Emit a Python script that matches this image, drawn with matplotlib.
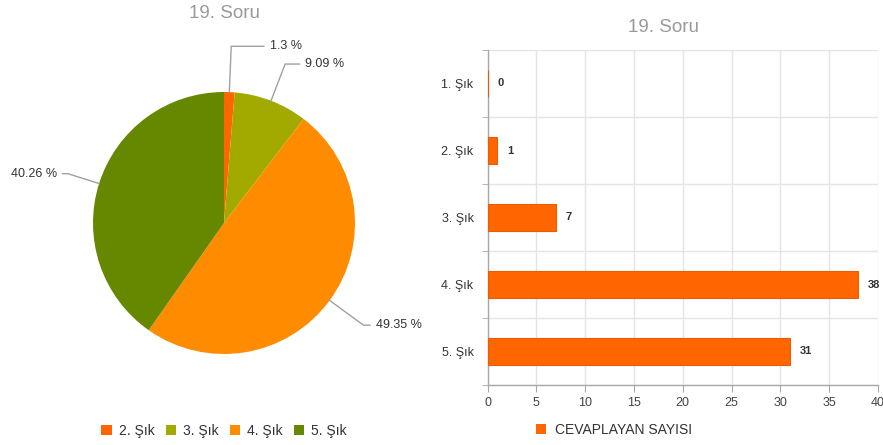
import matplotlib

matplotlib.use("Agg")

import matplotlib.pyplot as plt
import numpy as np
from matplotlib.patches import Patch

plt.rcParams["font.family"] = ["Liberation Sans", "DejaVu Sans"]

TITLE = "19. Soru"
categories = ["1. Şık", "2. Şık", "3. Şık", "4. Şık", "5. Şık"]
counts = [0, 1, 7, 38, 31]
series_name = "CEVAPLAYAN SAYISI"

pie_labels = ["2. Şık", "3. Şık", "4. Şık", "5. Şık"]
pie_values = [1, 7, 38, 31]
pie_pct = ["1.3 %", "9.09 %", "49.35 %", "40.26 %"]
pie_colors = ["#ff6600", "#a2aa00", "#ff8c00", "#668800"]

BAR_COLOR = "#ff6600"
TITLE_COLOR = "#9a9a9a"
TEXT_COLOR = "#333333"
GRID_COLOR = "#e4e4e4"
AXIS_COLOR = "#a8a8a8"

W, H = 883, 445
fig = plt.figure(figsize=(W / 100, H / 100), dpi=100)

# ---- pie (left) ----
r_px = 131
cx, cy = 224, 223
lim = 1.7
side = 2 * lim * r_px
ax1 = fig.add_axes([(cx - side / 2) / W, (H - cy - side / 2) / H, side / W, side / H])
wedges, _ = ax1.pie(
    pie_values,
    colors=pie_colors,
    startangle=90,
    counterclock=False,
    radius=1.0,
    wedgeprops=dict(linewidth=0),
)
ax1.set_xlim(-lim, lim)
ax1.set_ylim(-lim, lim)
ax1.set_aspect("equal")
ax1.axis("off")

# leader lines: radial segment to an elbow, then a short horizontal run
elbow_r = [1.35, 1.3, 1.32, 1.25]
hlen = [0.25, 0.11, 0.05, 0.04]
for w, txt, er, hl in zip(wedges, pie_pct, elbow_r, hlen):
    ang = np.deg2rad((w.theta1 + w.theta2) / 2)
    x0, y0 = np.cos(ang), np.sin(ang)
    ex, ey = np.cos(ang) * er, np.sin(ang) * er
    d = 1 if np.cos(ang) >= 0 else -1
    ax1.plot([x0, ex, ex + d * hl], [y0, ey, ey], color="#a0a0a0", lw=1, clip_on=False)
    ax1.text(ex + d * (hl + 0.045), ey, txt, ha="left" if d > 0 else "right",
             va="center", fontsize=9, color=TEXT_COLOR, clip_on=False)

fig.text(cx / W, 1 - 13 / H, TITLE, ha="center", va="center", fontsize=13.5, color=TITLE_COLOR)

handles = [Patch(facecolor=c, edgecolor="none") for c in pie_colors]
fig.legend(handles, pie_labels, loc="center", bbox_to_anchor=(cx / W, 1 - 431 / H),
           ncol=4, frameon=False, fontsize=10, handlelength=0.75, handleheight=0.75,
           handletextpad=0.5, columnspacing=0.8, labelcolor=TEXT_COLOR)

# ---- bars (right) ----
left, right, top, bottom = 487.5, 878, 50, 385
ax2 = fig.add_axes([left / W, (H - bottom) / H, (right - left) / W, (bottom - top) / H])
ypos = np.arange(len(categories))
ax2.barh(ypos, counts, height=0.4, color=BAR_COLOR, edgecolor="#e85d00", linewidth=0.8, zorder=3)
ax2.set_xlim(0, 40)
ax2.set_ylim(len(categories) - 0.5, -0.5)
ax2.set_xticks(range(0, 41, 5))
ax2.set_yticks(ypos)
ax2.set_yticklabels(categories)
ax2.set_yticks(np.arange(-0.5, len(categories)), minor=True)
ax2.xaxis.grid(True, color=GRID_COLOR, lw=1, zorder=0)
ax2.yaxis.grid(True, which="minor", color=GRID_COLOR, lw=1, zorder=0)
ax2.set_axisbelow(True)
for s in ("top", "right"):
    ax2.spines[s].set_visible(False)
for s in ("left", "bottom"):
    ax2.spines[s].set_color(AXIS_COLOR)
    ax2.spines[s].set_linewidth(1)
ax2.tick_params(axis="y", which="major", length=0, pad=10, labelsize=9, labelcolor=TEXT_COLOR)
ax2.tick_params(axis="y", which="minor", length=4, color=AXIS_COLOR)
ax2.tick_params(axis="x", length=5, color=AXIS_COLOR, labelsize=9, labelcolor="#444444", pad=4)

for y, v in zip(ypos, counts):
    ax2.annotate(str(v), xy=(v, y), xytext=(7, 0), textcoords="offset points",
                 ha="left", va="center", fontsize=8, fontweight="bold",
                 color=TEXT_COLOR, annotation_clip=False)

fig.text(663 / W, 1 - 27 / H, TITLE, ha="center", va="center", fontsize=13.5, color=TITLE_COLOR)

fig.legend([Patch(facecolor=BAR_COLOR, edgecolor="none")], [series_name], loc="center",
           bbox_to_anchor=(614 / W, 1 - 430 / H), frameon=False, fontsize=10,
           handlelength=0.75, handleheight=0.75, handletextpad=0.6, labelcolor=TEXT_COLOR)

fig.savefig("out.png", dpi=100, facecolor="white")
plt.close(fig)
